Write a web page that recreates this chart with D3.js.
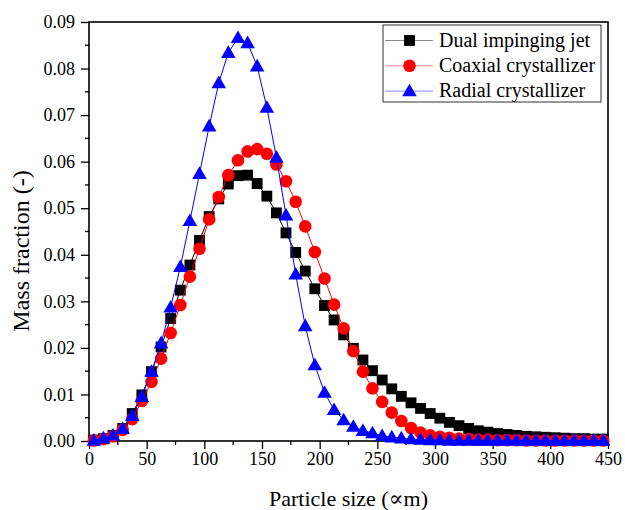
<!DOCTYPE html>
<html>
<head>
<meta charset="utf-8">
<script src="https://cdn.jsdelivr.net/npm/d3@7"></script>
<style>
  body { margin: 0; background: #fff; }
  text { font-family: "Liberation Serif", "Times New Roman", Times, "DejaVu Serif", serif; fill: #000; }
</style>
</head>
<body>
<div id="chart"></div>
<script>
// particle size bins (um)
const sizes = [4.2, 12.5, 20.8, 29.2, 37.5, 45.8, 54.2, 62.5, 70.8, 79.2,
  87.5, 95.8, 104.2, 112.5, 120.8, 129.2, 137.5, 145.8, 154.2, 162.5,
  170.8, 179.2, 187.5, 195.8, 204.2, 212.5, 220.8, 229.2, 237.5, 245.8,
  254.2, 262.5, 270.8, 279.2, 287.5, 295.8, 304.2, 312.5, 320.8, 329.2,
  337.5, 345.8, 354.2, 362.5, 370.8, 379.2, 387.5, 395.8, 404.2, 412.5,
  420.8, 429.2, 437.5, 445.8];

const dualJet = [0.0002, 0.0005, 0.0012, 0.0027, 0.0059, 0.0099, 0.0149, 0.0202, 0.0263, 0.0324,
  0.0378, 0.0431, 0.0482, 0.0520, 0.0552, 0.0570, 0.0571, 0.0553, 0.0526, 0.0490,
  0.0447, 0.0405, 0.0365, 0.0327, 0.0291, 0.0260, 0.0228, 0.0199, 0.0174, 0.0151,
  0.0131, 0.0112, 0.0096, 0.0082, 0.0070, 0.0059, 0.0049, 0.0040, 0.0033, 0.0027,
  0.0022, 0.0019, 0.0016, 0.0014, 0.0012, 0.0010, 0.0009, 0.0008, 0.0007, 0.0006,
  0.0005, 0.0005, 0.0004, 0.0004];

const coaxial = [0.0001, 0.0004, 0.0010, 0.0024, 0.0047, 0.0086, 0.0127, 0.0177, 0.0232, 0.0292,
  0.0353, 0.0413, 0.0476, 0.0524, 0.0571, 0.0603, 0.0622, 0.0627, 0.0617, 0.0594,
  0.0558, 0.0514, 0.0461, 0.0406, 0.0349, 0.0293, 0.0242, 0.0193, 0.0149, 0.0113,
  0.0084, 0.0061, 0.0043, 0.0028, 0.0018, 0.0012, 0.0009, 0.0007, 0.0005, 0.0004,
  0.0003, 0.0003, 0.0002, 0.0002, 0.0002, 0.0001, 0.0001, 0.0001, 0.0001, 0.0001,
  0.0001, 0.0001, 0.0001, 0.0001];

const radial = [0.0001, 0.0006, 0.0012, 0.0026, 0.0054, 0.0095, 0.0149, 0.0210, 0.0287, 0.0374,
  0.0473, 0.0574, 0.0676, 0.0769, 0.0834, 0.0866, 0.0855, 0.0805, 0.0716, 0.0609,
  0.0485, 0.0358, 0.0247, 0.0163, 0.0104, 0.0067, 0.0045, 0.0031, 0.0022, 0.0017,
  0.0011, 0.0008, 0.0006, 0.0004, 0.0003, 0.0002, 0.0002, 0.0001, 0.0001, 0.0001,
  0.0001, 0.0001, 0.0001, 0.0001, 0.0001, 0.0001, 0.0001, 0.0001, 0.0001, 0.0001,
  0.0001, 0.0001, 0.0001, 0.0001];

const seriesNames = ["Dual impinging jet", "Coaxial crystallizer", "Radial crystallizer"];
const xTicks = [0, 50, 100, 150, 200, 250, 300, 350, 400, 450];
const yTicks = [0.00, 0.01, 0.02, 0.03, 0.04, 0.05, 0.06, 0.07, 0.08, 0.09];

const FONT = '"Liberation Serif", "Times New Roman", Times, "DejaVu Serif", serif';

const series = [
  { name: seriesNames[0], values: dualJet, color: "#000000", symbol: d3.symbolSquare, size: 118 },
  { name: seriesNames[1], values: coaxial, color: "#ff0000", symbol: d3.symbolCircle, size: 125 },
  { name: seriesNames[2], values: radial, color: "#0000ff", symbol: d3.symbolTriangle, size: 92 }
];

const W = 625, H = 510;
const margin = { top: 22, right: 17, bottom: 69, left: 89 };
const width = W - margin.left - margin.right,
      height = H - margin.top - margin.bottom;

const svg = d3.select("#chart").append("svg")
  .attr("width", W).attr("height", H);

const g = svg.append("g")
  .attr("transform", `translate(${margin.left},${margin.top})`);

const x = d3.scaleLinear().domain([0, 450]).range([0, width]);
const y = d3.scaleLinear().domain([0, 0.09]).range([height, 0]);

// minor ticks
const xMinor = d3.range(25, 450, 50);
const yMinor = d3.range(0.005, 0.09, 0.01);

g.selectAll(".xminor").data(xMinor).join("line")
  .attr("x1", d => x(d)).attr("x2", d => x(d))
  .attr("y1", height).attr("y2", height + 4)
  .attr("stroke", "#000").attr("stroke-width", 1.3);
g.selectAll(".yminor").data(yMinor).join("line")
  .attr("x1", -4).attr("x2", 0)
  .attr("y1", d => y(d)).attr("y2", d => y(d))
  .attr("stroke", "#000").attr("stroke-width", 1.3);

// axes
const xAxis = g.append("g")
  .attr("transform", `translate(0,${height})`)
  .call(d3.axisBottom(x).tickValues(xTicks).tickFormat(d3.format("d")).tickSize(8).tickPadding(3));
const yAxis = g.append("g")
  .call(d3.axisLeft(y).tickValues(yTicks).tickFormat(d3.format(".2f")).tickSize(8).tickPadding(6));

[xAxis, yAxis].forEach(a => {
  a.attr("font-family", null);
  a.select(".domain").remove();
  a.selectAll("line").attr("stroke-width", 1.3);
  a.selectAll("text")
    .style("font-family", FONT)
    .style("font-size", "18px");
});

// plot frame
g.append("rect")
  .attr("width", width).attr("height", height)
  .attr("fill", "none").attr("stroke", "#000").attr("stroke-width", 1.6);

// series
const line = d3.line().x((d, i) => x(sizes[i])).y(d => y(d));

series.forEach(s => {
  const sg = g.append("g");
  sg.append("path")
    .attr("d", line(s.values))
    .attr("fill", "none")
    .attr("stroke", s.color)
    .attr("stroke-width", 1);
  sg.selectAll("path.m").data(s.values).join("path")
    .attr("class", "m")
    .attr("transform", (d, i) => `translate(${x(sizes[i])},${y(d) + (s.symbol === d3.symbolTriangle ? 1 : 0)})`)
    .attr("d", d3.symbol().type(s.symbol).size(s.size))
    .attr("fill", s.color);
});

// legend
const lg = svg.append("g").attr("transform", "translate(383,25)");
lg.append("rect")
  .attr("width", 218).attr("height", 77)
  .attr("fill", "#fff").attr("stroke", "#333").attr("stroke-width", 1);

series.forEach((s, i) => {
  const row = lg.append("g").attr("transform", `translate(0,${15.5 + i * 25.3})`);
  row.append("line")
    .attr("x1", 2).attr("x2", 50)
    .attr("stroke", s.color).attr("stroke-width", 1).attr("opacity", 0.45);
  row.append("path")
    .attr("transform", `translate(26.5,${s.symbol === d3.symbolTriangle ? 1 : 0})`)
    .attr("d", d3.symbol().type(s.symbol).size(s.size))
    .attr("fill", s.color);
  row.append("text")
    .attr("x", 56).attr("y", 6)
    .style("font-family", FONT)
    .style("font-size", "20px")
    .text(s.name);
});

// axis titles
svg.append("text")
  .attr("x", margin.left + width / 2).attr("y", 506)
  .attr("text-anchor", "middle")
  .style("font-family", FONT)
  .style("font-size", "22px")
  .text("Particle size (∝m)");

svg.append("text")
  .attr("transform", `translate(29,${251}) rotate(-90)`)
  .attr("text-anchor", "middle")
  .style("font-family", FONT)
  .style("font-size", "24px")
  .text("Mass fraction (-)");
</script>
</body>
</html>
